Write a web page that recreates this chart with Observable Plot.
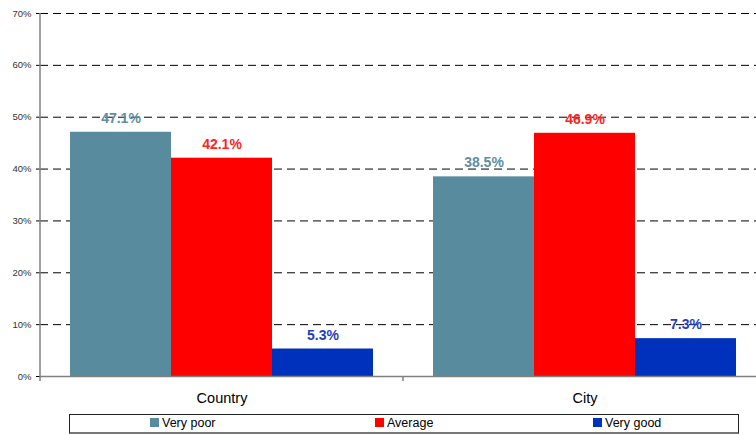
<!DOCTYPE html>
<html>
<head>
<meta charset="utf-8">
<script src="https://cdn.jsdelivr.net/npm/d3@7"></script>
<script src="https://cdn.jsdelivr.net/npm/@observablehq/plot@0.6"></script>
<style>
  html, body { margin: 0; padding: 0; background: #fff; overflow: hidden; }
  #wrap { position: relative; width: 756px; height: 435px; overflow: hidden; font-family: "Liberation Sans", Arial, sans-serif; }
  #chart { position: absolute; left: 0; top: 0; width: 766px; }
  #chart svg { max-width: none !important; }
  #legend { position: absolute; left: 69px; top: 414px; width: 668px; height: 17px; border: 1px solid #222; border-bottom: 2px solid #777; background: #fff; }
  .item { position: absolute; top: 1px; font-size: 12.5px; color: #000; line-height: 15px; white-space: nowrap; }
  .sw { display: inline-block; width: 9px; height: 9px; margin-right: 3px; vertical-align: -0px; }
</style>
</head>
<body>
<div id="wrap">
  <div id="chart"></div>
  <div id="legend"></div>
</div>
<script>
const groups = ["Country", "City"];
const series = ["Very poor", "Average", "Very good"];
const countryValues = [47.1, 42.1, 5.3];
const cityValues = [38.5, 46.9, 7.3];
const yTicks = [0, 10, 20, 30, 40, 50, 60, 70];
const barColors = ["#588b9e", "#ff0000", "#0031bd"];
const labelColors = ["#5f8ea2", "#ff2424", "#1f3fbf"];
const legendLeft = [80, 305, 523];

const data = [];
series.forEach((s, i) => {
  data.push({group: "Country", series: s, value: countryValues[i], idx: i});
  data.push({group: "City", series: s, value: cityValues[i], idx: i});
});

const chart = Plot.plot({
  width: 766,
  height: 410,
  marginLeft: 40,
  marginRight: 0,
  marginTop: 13,
  marginBottom: 34,
  style: {fontFamily: "'Liberation Sans', Arial, sans-serif", background: "transparent", maxWidth: "none"},
  fx: {domain: groups, paddingInner: 0, paddingOuter: 0, label: null, axis: "bottom", tickSize: 0, tickPadding: 16},
  x: {domain: series, paddingInner: 0, paddingOuter: 0.297, axis: null},
  y: {domain: [0, 70], ticks: yTicks, tickFormat: d => d + "%", label: null, tickSize: 4},
  color: {domain: series, range: barColors},
  marks: [
    Plot.ruleY(yTicks.filter(d => d > 0), {stroke: "#000", strokeWidth: 1, strokeDasharray: "8,5"}),
    Plot.barY(data, {fx: "group", x: "series", y: "value", fill: "series"}),
    Plot.ruleY([0], {stroke: "#808080", strokeWidth: 1.5}),
    Plot.text(data, {fx: "group", x: "series", y: "value", text: d => d.value.toFixed(1) + "%",
      fill: d => labelColors[d.idx], fontWeight: "bold", fontSize: 14, dy: -14})
  ]
});
chart.style.maxWidth = "none";
document.getElementById("chart").appendChild(chart);

d3.select(chart).selectAll("[aria-label='y-axis tick label'] text, [aria-label='y-axis tick label']").attr("fill", "#333").style("font-size", "9.5px");
d3.select(chart).selectAll("[aria-label='fx-axis tick label']").style("font-size", "14.5px").attr("fill", "#000");

const fx = chart.scale("fx");
const y = chart.scale("y");
const svg = d3.select(chart);
const x0 = fx.apply(groups[0]);
svg.append("line").attr("x1", x0).attr("x2", x0).attr("y1", y.apply(70)).attr("y2", y.apply(0) + 5).attr("stroke", "#808080").attr("stroke-width", 1.5);
const x1 = fx.apply(groups[1]);
svg.append("line").attr("x1", x1).attr("x2", x1).attr("y1", y.apply(0)).attr("y2", y.apply(0) + 5).attr("stroke", "#808080").attr("stroke-width", 1.5);

const legend = document.getElementById("legend");
series.forEach((s, i) => {
  const el = document.createElement("div");
  el.className = "item";
  el.style.left = legendLeft[i] + "px";
  el.innerHTML = `<span class="sw" style="background:${barColors[i]}"></span>${s}`;
  legend.appendChild(el);
});
</script>
</body>
</html>
